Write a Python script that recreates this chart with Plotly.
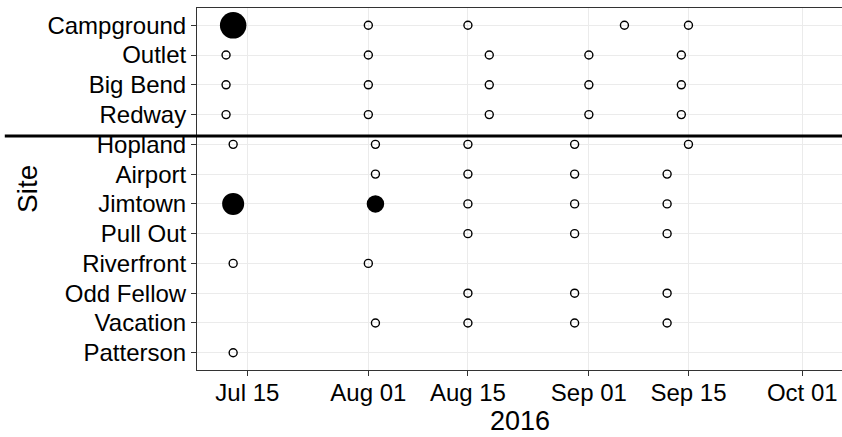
import plotly.graph_objects as go

# Sites, top to bottom
sites = ["Campground", "Outlet", "Big Bend", "Redway", "Hopland", "Airport",
         "Jimtown", "Pull Out", "Riverfront", "Odd Fellow", "Vacation", "Patterson"]

# Observations: site, date, count (0 = none detected -> open circle)
obs_site = (
    ["Campground"] * 5 +
    ["Outlet"] * 5 +
    ["Big Bend"] * 5 +
    ["Redway"] * 5 +
    ["Hopland"] * 5 +
    ["Airport"] * 4 +
    ["Jimtown"] * 5 +
    ["Pull Out"] * 3 +
    ["Riverfront"] * 2 +
    ["Odd Fellow"] * 3 +
    ["Vacation"] * 4 +
    ["Patterson"] * 1
)
obs_date = [
    "2016-07-13", "2016-08-01", "2016-08-15", "2016-09-06", "2016-09-15",
    "2016-07-12", "2016-08-01", "2016-08-18", "2016-09-01", "2016-09-14",
    "2016-07-12", "2016-08-01", "2016-08-18", "2016-09-01", "2016-09-14",
    "2016-07-12", "2016-08-01", "2016-08-18", "2016-09-01", "2016-09-14",
    "2016-07-13", "2016-08-02", "2016-08-15", "2016-08-30", "2016-09-15",
    "2016-08-02", "2016-08-15", "2016-08-30", "2016-09-12",
    "2016-07-13", "2016-08-02", "2016-08-15", "2016-08-30", "2016-09-12",
    "2016-08-15", "2016-08-30", "2016-09-12",
    "2016-07-13", "2016-08-01",
    "2016-08-15", "2016-08-30", "2016-09-12",
    "2016-08-02", "2016-08-15", "2016-08-30", "2016-09-12",
    "2016-07-13",
]
obs_count = [
    3, 0, 0, 0, 0,
    0, 0, 0, 0, 0,
    0, 0, 0, 0, 0,
    0, 0, 0, 0, 0,
    0, 0, 0, 0, 0,
    0, 0, 0, 0,
    2, 1, 0, 0, 0,
    0, 0, 0,
    0, 0,
    0, 0, 0,
    0, 0, 0, 0,
    0,
]

tick_dates = ["2016-07-15", "2016-08-01", "2016-08-15", "2016-09-01", "2016-09-15", "2016-10-01"]
tick_labels = ["Jul 15", "Aug 01", "Aug 15", "Sep 01", "Sep 15", "Oct 01"]
x_title = "2016"
y_title = "Site"
divider_after = 3.72  # between Redway and Hopland (site index units)

site_idx = {s: i for i, s in enumerate(sites)}

open_x = [d for d, c in zip(obs_date, obs_count) if c == 0]
open_y = [site_idx[s] for s, c in zip(obs_site, obs_count) if c == 0]
fill_x = [d for d, c in zip(obs_date, obs_count) if c > 0]
fill_y = [site_idx[s] for s, c in zip(obs_site, obs_count) if c > 0]
fill_c = [c for c in obs_count if c > 0]

fig = go.Figure()
fig.add_trace(go.Scatter(
    x=open_x, y=open_y, mode="markers",
    marker=dict(symbol="circle-open", size=8, color="black", opacity=1,
                line=dict(width=1.4, color="black")),
    showlegend=False,
))
fig.add_trace(go.Scatter(
    x=fill_x, y=fill_y, mode="markers",
    marker=dict(symbol="circle", size=[13 + 4.5 * c for c in fill_c], color="black",
                opacity=1, line=dict(width=0)),
    showlegend=False,
))

font_family = "Arial, Liberation Sans, sans-serif"

fig.add_shape(type="line", xref="paper", yref="y",
              x0=-0.298, x1=1.0, y0=divider_after, y1=divider_after,
              line=dict(color="black", width=3))

fig.update_layout(
    width=842, height=437,
    margin=dict(l=197, r=0, t=8, b=67),
    paper_bgcolor="white", plot_bgcolor="white",
    font=dict(family=font_family, color="black"),
    xaxis=dict(
        type="date",
        range=["2016-07-07 22:00", "2016-10-06 14:00"],
        tickvals=tick_dates, ticktext=tick_labels,
        tickfont=dict(size=24, color="black"),
        ticks="outside", ticklen=5, tickcolor="#333333", tickwidth=1,
        ticklabelstandoff=-4,
        showline=True, linecolor="#333333", linewidth=1, mirror=True,
        showgrid=True, gridcolor="#ebebeb", gridwidth=1.2,
        zeroline=False, automargin=False,
    ),
    yaxis=dict(
        range=[11.58, -0.58],
        tickvals=list(range(len(sites))), ticktext=sites,
        tickfont=dict(size=24, color="black"),
        ticks="outside", ticklen=5, tickcolor="#333333", tickwidth=1,
        showline=True, linecolor="#333333", linewidth=1,
        showgrid=True, gridcolor="#ebebeb", gridwidth=1.2,
        zeroline=False, automargin=False,
    ),
    annotations=[
        dict(text=y_title, xref="paper", yref="paper", x=-0.2636, y=0.5,
             textangle=-90, showarrow=False, font=dict(size=28, color="black"),
             xanchor="center", yanchor="middle"),
        dict(text=x_title, xref="paper", yref="paper", x=0.5008, y=-0.14,
             showarrow=False, font=dict(size=27, color="black"),
             xanchor="center", yanchor="middle"),
    ],
)

fig.write_html("out.html", config={"displayModeBar": False},
               post_script="document.body.style.margin='0';document.body.style.overflow='hidden';")
